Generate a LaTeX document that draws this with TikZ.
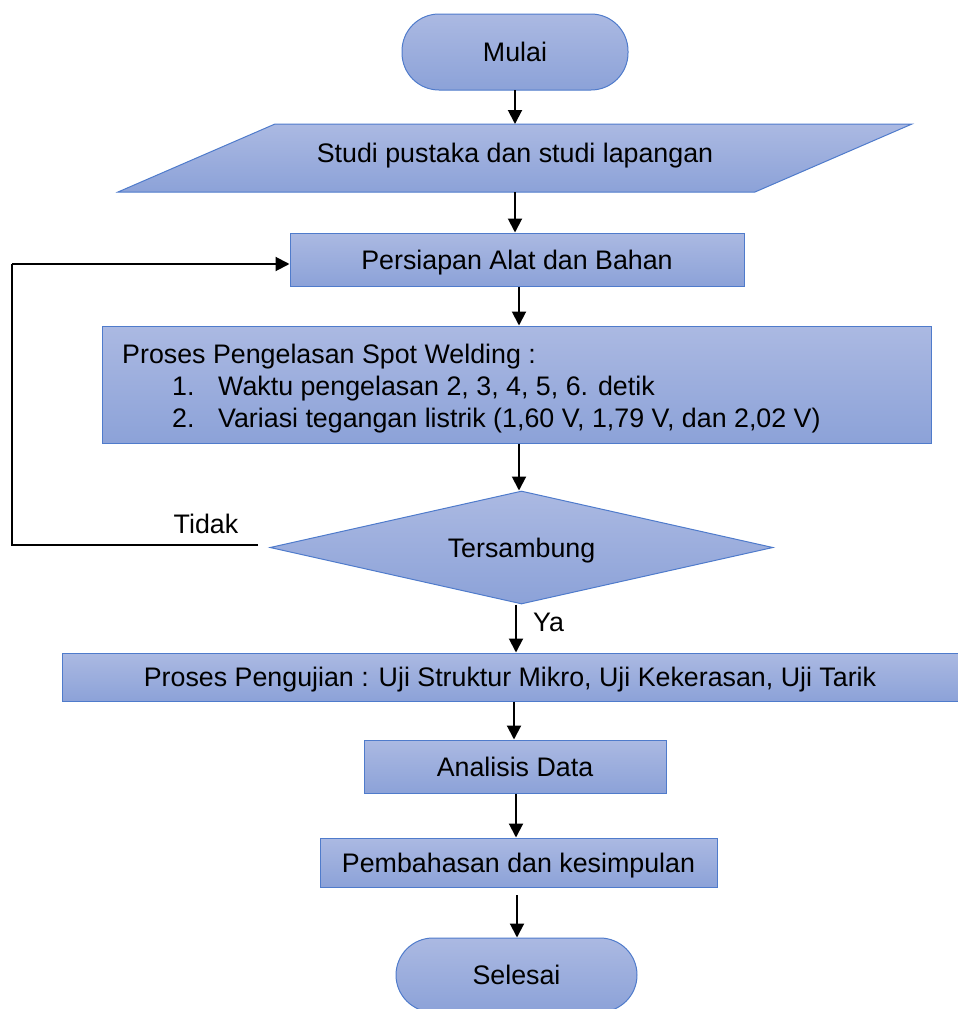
\documentclass[tikz,border=0pt]{standalone}
\usepackage{fontspec}
\setmainfont{Liberation Sans}
\usetikzlibrary{shapes.geometric,arrows.meta}
\definecolor{gtop}{HTML}{ABB9E2}
\definecolor{gbot}{HTML}{8CA2D8}
\definecolor{bord}{HTML}{4F7BCB}
\newcommand{\bigtxt}{\fontsize{26.8}{32}\selectfont}
\tikzset{
  fl/.style={top color=gtop,bottom color=gbot,draw=bord,line width=1pt},
  ctr/.style={text height=19.2pt,text depth=0pt},
  boxnode/.style={fl,rectangle,inner sep=0pt,font=\bigtxt,ctr},
  term/.style={boxnode,rounded corners=37pt},
  txt/.style={inner sep=0pt,font=\bigtxt},
  arr/.style={line width=2pt,-{Triangle[length=14pt,width=14pt]}},
  ln/.style={line width=2pt}
}
\begin{document}
\begin{tikzpicture}[x=1pt,y=-1pt]
\useasboundingbox (0,0) rectangle (958,1009);
% Mulai
\node[term,minimum width=226pt,minimum height=76pt] (mulai) at (515,52) {Mulai};
% parallelogram
\node[inner sep=0pt,minimum width=637pt,minimum height=68pt] (studi) at (515,158) {};
\shade[fl] (275,124) -- (912,124) -- (755,192) -- (118,192) -- cycle;
\node[txt,ctr] at (515,153) {Studi pustaka dan studi lapangan};
% Persiapan
\node[boxnode,minimum width=454pt,minimum height=53pt] (persiapan) at (517,259.5) {Persiapan Alat dan Bahan};
% Proses
\node[boxnode,minimum width=829pt,minimum height=117pt] (proses) at (516.5,384.5) {};
\node[txt,anchor=base west] at (122,363) {Proses Pengelasan Spot Welding :};
\node[txt,anchor=base west] at (172,395) {1.};
\node[txt,anchor=base west] at (218,395) {Waktu pengelasan 2, 3, 4, 5, 6. detik};
\node[txt,anchor=base west] at (172,427) {2.};
\node[txt,anchor=base west] at (218,427) {Variasi tegangan listrik (1,60 V, 1,79 V, dan 2,02 V)};
% Diamond
\node[fl,diamond,aspect=4.45,inner sep=0pt,minimum width=503pt,minimum height=113pt,font=\bigtxt,ctr] (tersambung) at (521.5,547.5) {Tersambung};
% Pengujian
\node[boxnode,minimum width=896pt,minimum height=48pt] (pengujian) at (510,677) {Proses Pengujian : Uji Struktur Mikro, Uji Kekerasan, Uji Tarik};
% Analisis
\node[boxnode,minimum width=302pt,minimum height=53pt] (analisis) at (515,766.5) {Analisis Data};
% Pembahasan
\node[boxnode,minimum width=397pt,minimum height=49pt] (pembahasan) at (518.5,862.5) {Pembahasan dan kesimpulan};
% Selesai
\node[term,minimum width=241pt,minimum height=74pt] (selesai) at (516.5,975) {Selesai};

% arrows
\draw[arr] (515,90) -- (515,124);
\draw[arr] (515,192) -- (persiapan.north -| 515,0);
\draw[arr] (persiapan.south -| 519,0) -- (proses.north -| 519,0);
\draw[arr] (proses.south -| 519,0) -- (tersambung.north -| 519,0);
\draw[arr] (tersambung.south -| 516,0) -- (pengujian.north -| 516,0);
\node[txt,anchor=west,ctr] at (533,622) {Ya};
\draw[arr] (pengujian.south -| 514,0) -- (analisis.north -| 514,0);
\draw[arr] (analisis.south -| 516,0) -- (pembahasan.north -| 516,0);
\coordinate (p0) at (517,895);
\draw[arr] (p0) -- (selesai.north -| 517,0);
% feedback
\coordinate (f0) at (258,545);
\coordinate (f1) at (12,545);
\coordinate (f2) at (12,264);
\draw[ln] (f0) -- (f1) -- (f2);
\draw[arr] (f2) -- (persiapan.west |- f2);
\node[txt,ctr] at (206,524) {Tidak};
\end{tikzpicture}
\end{document}
